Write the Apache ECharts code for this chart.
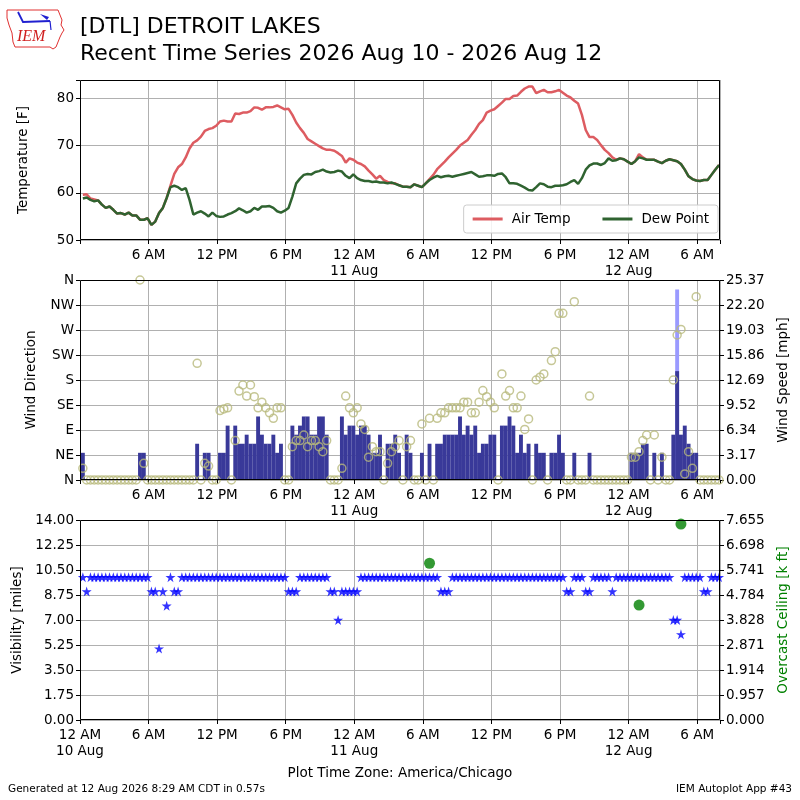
<!doctype html>
<html lang="en">
<head>
<meta charset="UTF-8"/>
<title>DTL Recent Time Series</title>
<script src="https://cdn.jsdelivr.net/npm/echarts@6/dist/echarts.min.js"></script>
<style>html,body{margin:0;padding:0;background:#fff;}</style>
</head>
<body>
<div id="main" style="width:800px;height:800px;"></div>
<script type="text/javascript">
// obs every 20 minutes, first at 10 Aug 00:15 (x axis = hours since 10 Aug 00:00)
var firstObHour = 0.25;
var obStepHour = 1 / 3;

// temperature [F], one row = 4 hours
var airTemp = [
  59.6, 59.7, 58.8, 58.6, 58.4, 57.5, 56.8, 57.1, 56.4, 55.6, 55.7, 55.4,
  55.8, 55.2, 55.2, 54.3, 54.3, 54.6, 53.2, 53.9, 55.7, 56.8, 58.9, 61.5,
  64.0, 65.4, 66.1, 67.5, 69.4, 70.6, 71.1, 71.9, 73.1, 73.5, 73.7, 74.2,
  75.1, 75.3, 75.1, 75.1, 76.8, 76.7, 77.0, 77.0, 77.3, 78.1, 78.0, 77.6,
  78.1, 78.1, 78.2, 78.5, 78.1, 77.7, 77.8, 76.5, 74.9, 73.7, 72.7, 71.4,
  70.9, 70.4, 69.9, 69.4, 69.1, 69.1, 68.9, 68.4, 67.8, 66.4, 67.3, 67.0,
  66.4, 66.1, 65.6, 64.7, 63.9, 63.0, 63.6, 62.7, 62.3, 62.0, 62.0, 61.6,
  61.3, 61.3, 61.2, 61.8, 61.5, 61.2, 62.0, 62.9, 63.8, 65.0, 65.8, 66.6,
  67.5, 68.3, 69.1, 70.0, 70.6, 71.2, 72.3, 73.3, 74.6, 75.4, 77.0, 77.4,
  77.7, 78.4, 79.1, 79.9, 79.9, 80.5, 80.6, 81.4, 82.1, 82.5, 82.5, 81.1,
  81.5, 81.8, 81.3, 81.3, 81.5, 81.8, 81.2, 80.6, 80.2, 79.5, 78.9, 76.5,
  73.3, 71.8, 71.8, 71.2, 70.1, 69.1, 68.4, 67.5, 67.0, 67.3, 67.1, 66.6,
  66.1, 66.7, 68.2, 67.5, 67.0, 67.0, 67.0, 66.6, 66.3, 66.8, 67.1, 66.9,
  66.7, 66.1, 64.9, 63.5, 62.9, 62.6, 62.5, 62.7, 62.7, 63.8, 64.9, 65.9
];
var dewPoint = [
  58.8, 59.0, 58.5, 58.2, 58.4, 57.5, 56.8, 57.1, 56.4, 55.6, 55.7, 55.4,
  55.8, 55.2, 55.2, 54.3, 54.3, 54.6, 53.2, 53.9, 55.7, 56.8, 58.9, 61.2,
  61.5, 61.2, 60.6, 61.0, 58.5, 55.4, 55.8, 56.1, 55.6, 55.0, 55.8, 55.1,
  54.9, 55.0, 55.4, 55.7, 56.1, 56.7, 56.3, 55.8, 56.1, 56.8, 56.4, 57.1,
  57.1, 57.2, 56.8, 56.1, 55.8, 56.2, 56.8, 59.2, 62.0, 63.0, 63.8, 64.0,
  63.9, 64.4, 64.6, 64.9, 64.5, 64.3, 64.4, 64.7, 64.5, 63.6, 63.1, 63.9,
  63.1, 62.7, 62.5, 62.5, 62.3, 62.4, 62.2, 62.2, 62.0, 62.2, 61.9, 61.6,
  61.3, 61.3, 61.2, 61.8, 61.5, 61.2, 62.0, 62.7, 63.2, 63.6, 63.3, 63.5,
  63.6, 63.4, 63.6, 63.8, 64.0, 64.2, 64.4, 63.9, 63.4, 63.5, 63.7, 63.7,
  63.6, 64.0, 64.1, 63.3, 62.0, 62.0, 61.9, 61.5, 61.1, 60.6, 60.5, 61.2,
  62.0, 61.8, 61.3, 61.2, 61.5, 61.5, 61.6, 61.8, 62.3, 62.7, 61.9, 63.1,
  64.9, 65.8, 66.2, 66.2, 65.9, 66.3, 67.3, 66.8, 66.9, 67.3, 67.1, 66.6,
  66.1, 66.7, 67.5, 67.3, 67.0, 67.0, 67.0, 66.6, 66.3, 66.8, 67.1, 66.9,
  66.7, 66.1, 64.9, 63.5, 62.9, 62.6, 62.5, 62.7, 62.7, 63.8, 64.9, 65.9
];

// wind direction [deg], 0 = calm
var windDir = [
  21, 0, 0, 0, 0, 0, 0, 0, 0, 0, 0, 0,
  0, 0, 0, 360, 30, 0, 0, 0, 0, 0, 0, 0,
  0, 0, 0, 0, 0, 0, 210, 0, 30, 25, 0, 0,
  125, 128, 130, 0, 71, 160, 171, 151, 171, 150, 130, 140,
  130, 121, 111, 130, 130, 0, 0, 60, 71, 71, 81, 60,
  71, 71, 60, 51, 71, 0, 0, 0, 21, 151, 130, 121,
  130, 101, 91, 41, 60, 51, 51, 0, 30, 51, 60, 71,
  0, 60, 71, 0, 0, 101, 0, 111, 0, 111, 121, 121,
  130, 130, 130, 130, 140, 140, 121, 121, 140, 161, 150, 140,
  130, 0, 191, 151, 161, 130, 130, 151, 91, 110, 0, 180,
  185, 191, 0, 215, 231, 300, 300, 0, 0, 321, 0, 0,
  0, 151, 0, 0, 0, 0, 0, 0, 0, 0, 0, 0,
  41, 41, 51, 71, 81, 0, 81, 0, 41, 0, 0, 180,
  261, 271, 11, 51, 21, 330, 0, 0, 0, 0, 0, 0
];
// wind speed [mph]
var windSpeed = [
  3.45, 0, 0, 0, 0, 0, 0, 0, 0, 0, 0, 0,
  0, 0, 0, 3.45, 3.45, 0, 0, 0, 0, 0, 0, 0,
  0, 0, 0, 0, 0, 0, 4.60, 0, 3.45, 3.45, 0, 0,
  3.45, 3.45, 6.90, 0, 6.90, 4.60, 4.60, 5.75, 4.60, 4.60, 8.06, 5.75,
  4.60, 4.60, 5.75, 3.45, 4.60, 0, 0, 6.90, 5.75, 6.90, 8.06, 8.06,
  5.75, 5.75, 8.06, 8.06, 5.75, 0, 0, 0, 8.06, 5.75, 6.90, 6.90,
  5.75, 6.90, 6.90, 5.75, 3.45, 3.45, 5.75, 0, 4.60, 4.60, 5.75, 3.45,
  0, 5.75, 3.45, 0, 0, 3.45, 0, 4.60, 0, 4.60, 4.60, 5.75,
  5.75, 5.75, 5.75, 8.06, 5.75, 6.90, 5.75, 6.90, 3.45, 4.60, 4.60, 5.75,
  5.75, 0, 6.90, 6.90, 8.06, 6.90, 3.45, 5.75, 3.45, 4.60, 0, 4.60,
  3.45, 3.45, 0, 3.45, 3.45, 5.75, 3.45, 0, 0, 3.45, 0, 0,
  0, 3.45, 0, 0, 0, 0, 0, 0, 0, 0, 0, 0,
  3.45, 3.45, 3.45, 4.60, 4.60, 0, 3.45, 0, 3.45, 0, 0, 5.75,
  13.81, 5.75, 6.90, 4.60, 3.45, 3.45, 0, 0, 0, 0, 0, 0
];
var gustIndex = [156];
var gustSpeed = [24.17];

// visibility [miles]
var visibility = [
  10, 9, 10, 10, 10, 10, 10, 10, 10, 10, 10, 10,
  10, 10, 10, 10, 10, 10, 9, 9, 5, 9, 8, 10,
  9, 9, 10, 10, 10, 10, 10, 10, 10, 10, 10, 10,
  10, 10, 10, 10, 10, 10, 10, 10, 10, 10, 10, 10,
  10, 10, 10, 10, 10, 10, 9, 9, 9, 10, 10, 10,
  10, 10, 10, 10, 10, 9, 9, 7, 9, 9, 9, 9,
  9, 10, 10, 10, 10, 10, 10, 10, 10, 10, 10, 10,
  10, 10, 10, 10, 10, 10, 10, 10, 10, 10, 9, 9,
  9, 10, 10, 10, 10, 10, 10, 10, 10, 10, 10, 10,
  10, 10, 10, 10, 10, 10, 10, 10, 10, 10, 10, 10,
  10, 10, 10, 10, 10, 10, 10, 9, 9, 10, 10, 10,
  9, 9, 10, 10, 10, 10, 10, 9, 10, 10, 10, 10,
  10, 10, 10, 10, 10, 10, 10, 10, 10, 10, 10, 7,
  7, 6, 10, 10, 10, 10, 10, 9, 9, 10, 10, 10
];
// overcast ceiling [k ft]
var ceilIndex = [91, 146, 157];
var ceilValue = [6.0, 4.4, 7.5];

var hourLabels = ['12 AM', '6 AM', '12 PM', '6 PM'];
var dayLabels = ['10 Aug', '11 Aug', '12 Aug'];
var tempTicks = [50, 60, 70, 80];
var dirLabels = ['N', 'NE', 'E', 'SE', 'S', 'SW', 'W', 'NW', 'N'];
var speedTicks = ['0.00', '3.17', '6.34', '9.52', '12.69', '15.86', '19.03', '22.20', '25.37'];
var visTicks = ['0.00', '1.75', '3.50', '5.25', '7.00', '8.75', '10.50', '12.25', '14.00'];
var ceilTicks = ['0.000', '0.957', '1.914', '2.871', '3.828', '4.784', '5.741', '6.698', '7.655'];

var speedMax = 25.374;
var ceilMax = 7.655;

var FONT = 'DejaVu Sans';
var FS = 13.5;
var star = 'path://M50,0 L61,35 L98,35 L68,57 L79,91 L50,70 L21,91 L32,57 L2,35 L39,35 Z';

function obHour(i) { return firstObHour + i * obStepHour; }
function series(arr) { return arr.map(function (v, i) { return [obHour(i), v]; }); }
function picked(idx, vals) { return idx.map(function (k, j) { return [obHour(k), vals[j]]; }); }

function timeAxis(grid, showFirst) {
  return {
    type: 'value', gridIndex: grid, min: 0, max: 56, interval: 6,
    axisLine: { show: false },
    axisTick: { show: true, length: 4, lineStyle: { color: '#000' } },
    splitLine: { show: true, lineStyle: { color: '#b0b0b0' } },
    axisLabel: {
      color: '#000', fontFamily: FONT, fontSize: FS, lineHeight: 16, margin: 7,
      formatter: function (v) {
        if (v % 6 !== 0) return '';
        if (v === 0 && !showFirst) return '';
        var s = hourLabels[(v % 24) / 6];
        if (v % 24 === 0) s += '\n' + dayLabels[v / 24];
        return s;
      }
    }
  };
}

function valAxis(grid, opt) {
  return {
    type: 'value', gridIndex: grid, min: opt.min, max: opt.max, interval: opt.interval,
    position: opt.position || 'left',
    name: opt.name, nameLocation: 'middle', nameGap: opt.nameGap, nameRotate: 90,
    nameTextStyle: { color: opt.nameColor || '#000', fontFamily: FONT, fontSize: FS },
    axisLine: { show: false },
    axisTick: { show: true, length: 4, lineStyle: { color: '#000' } },
    splitLine: { show: opt.split !== false, lineStyle: { color: '#b0b0b0' } },
    axisLabel: { color: '#000', fontFamily: FONT, fontSize: FS, margin: 6, formatter: opt.fmt }
  };
}

function frame(x, y, w, h) {
  return { type: 'rect', z: 100, silent: true,
    shape: { x: x + 0.5, y: y + 0.5, width: w - 1, height: h - 1 },
    style: { fill: 'none', stroke: '#000', lineWidth: 1 } };
}

var chart = echarts.init(document.getElementById('main'));
var option = {
  animation: false,
  backgroundColor: '#fff',
  textStyle: { fontFamily: FONT },
  grid: [
    { left: 80, top: 80, width: 640, height: 160 },
    { left: 80, top: 280, width: 640, height: 200 },
    { left: 80, top: 520, width: 640, height: 200 }
  ],
  legend: {
    data: ['Air Temp', 'Dew Point'],
    icon: 'rect', right: 82, top: 205, itemWidth: 30, itemHeight: 3, itemGap: 32,
    padding: [7, 9], backgroundColor: 'rgba(255,255,255,0.85)',
    borderColor: '#cccccc', borderWidth: 1, borderRadius: 3,
    textStyle: { color: '#000', fontFamily: FONT, fontSize: FS, padding: [0, 0, 0, 4] }
  },
  xAxis: [timeAxis(0, false), timeAxis(1, false), timeAxis(2, true)],
  yAxis: [
    valAxis(0, { min: 50, max: 83.9, interval: 10, name: 'Temperature [F]', nameGap: 50,
      fmt: function (v) { return tempTicks.indexOf(v) >= 0 ? String(v) : ''; } }),
    valAxis(1, { min: 0, max: 360, interval: 45, name: 'Wind Direction', nameGap: 42,
      fmt: function (v) { return dirLabels[Math.round(v / 45)]; } }),
    valAxis(1, { min: 0, max: speedMax, interval: speedMax / 8, position: 'right', split: false,
      name: 'Wind Speed [mph]', nameGap: 56,
      fmt: function (v) { return speedTicks[Math.round(v / (speedMax / 8))]; } }),
    valAxis(2, { min: 0, max: 14, interval: 1.75, name: 'Visibility [miles]', nameGap: 55,
      fmt: function (v) { return visTicks[Math.round(v / 1.75)]; } }),
    valAxis(2, { min: 0, max: ceilMax, interval: ceilMax / 8, position: 'right', split: false,
      name: 'Overcast Ceiling [k ft]', nameGap: 56, nameColor: '#008000',
      fmt: function (v) { return ceilTicks[Math.round(v / (ceilMax / 8))]; } })
  ],
  series: [
    { name: 'Air Temp', type: 'line', xAxisIndex: 0, yAxisIndex: 0, data: series(airTemp),
      symbol: 'none', color: '#dd5c61', lineStyle: { width: 2.5, color: '#dd5c61' } },
    { name: 'Dew Point', type: 'line', xAxisIndex: 0, yAxisIndex: 0, data: series(dewPoint),
      symbol: 'none', color: '#2f6330', lineStyle: { width: 2.5, color: '#2f6330' } },
    { type: 'bar', xAxisIndex: 1, yAxisIndex: 2, data: picked(gustIndex, gustSpeed),
      barWidth: 3.9, barGap: '-100%', itemStyle: { color: '#9a9aff' } },
    { type: 'bar', xAxisIndex: 1, yAxisIndex: 2, data: series(windSpeed),
      barWidth: 3.9, barGap: '-100%', itemStyle: { color: '#393999' } },
    { type: 'scatter', xAxisIndex: 1, yAxisIndex: 1, data: series(windDir),
      symbol: 'circle', symbolSize: 8,
      itemStyle: { color: 'rgba(0,0,0,0)', borderColor: '#b8b97c', borderWidth: 1.5 } },
    { type: 'scatter', xAxisIndex: 2, yAxisIndex: 3, data: series(visibility),
      symbol: star, symbolSize: 10, itemStyle: { color: '#0000ff' } },
    { type: 'scatter', xAxisIndex: 2, yAxisIndex: 4, data: picked(ceilIndex, ceilValue),
      symbol: 'circle', symbolSize: 11, itemStyle: { color: '#008000' } }
  ],
  graphic: [
    frame(80, 80, 640, 160), frame(80, 280, 640, 200), frame(80, 520, 640, 200),
    { type: 'text', left: 80, top: 16, style: { text: '[DTL] DETROIT LAKES', fill: '#000', font: '22px "DejaVu Sans"' } },
    { type: 'text', left: 80, top: 43, style: { text: 'Recent Time Series 2026 Aug 10 - 2026 Aug 12', fill: '#000', font: '22px "DejaVu Sans"' } },
    { type: 'text', left: 'center', top: 766, style: { text: 'Plot Time Zone: America/Chicago', fill: '#000', font: '13.5px "DejaVu Sans"' } },
    { type: 'text', left: 8, top: 784, style: { text: 'Generated at 12 Aug 2026 8:29 AM CDT in 0.57s', fill: '#000', font: '10.5px "DejaVu Sans"' } },
    { type: 'text', right: 8, top: 784, style: { text: 'IEM Autoplot App #43', fill: '#000', font: '10.5px "DejaVu Sans"' } },
    // IEM logo
    { type: 'polygon', shape: { points: [[7, 10], [58, 10], [60, 15], [62, 20], [61, 25], [64, 30], [62, 33], [60, 37], [58, 42], [56, 47], [53, 49], [50, 47], [15, 47], [13, 42], [12, 33], [9, 25], [7, 18]] },
      style: { fill: 'none', stroke: '#e03030', lineWidth: 1 } },
    { type: 'polyline', shape: { points: [[18, 12], [23, 22], [50, 21]] }, style: { stroke: '#2020d0', lineWidth: 1.8, fill: 'none' } },
    { type: 'polygon', shape: { points: [[40, 14], [49, 17], [47, 20]] }, style: { fill: '#2020d0' } },
    { type: 'polyline', shape: { points: [[50, 21], [51, 30]] }, style: { stroke: '#2020d0', lineWidth: 1.2 } },
    { type: 'text', left: 17, top: 29, style: { text: 'IEM', fill: '#d02020', font: 'italic 16px "Liberation Serif"' } }
  ]
};
chart.setOption(option);
</script>
</body>
</html>
